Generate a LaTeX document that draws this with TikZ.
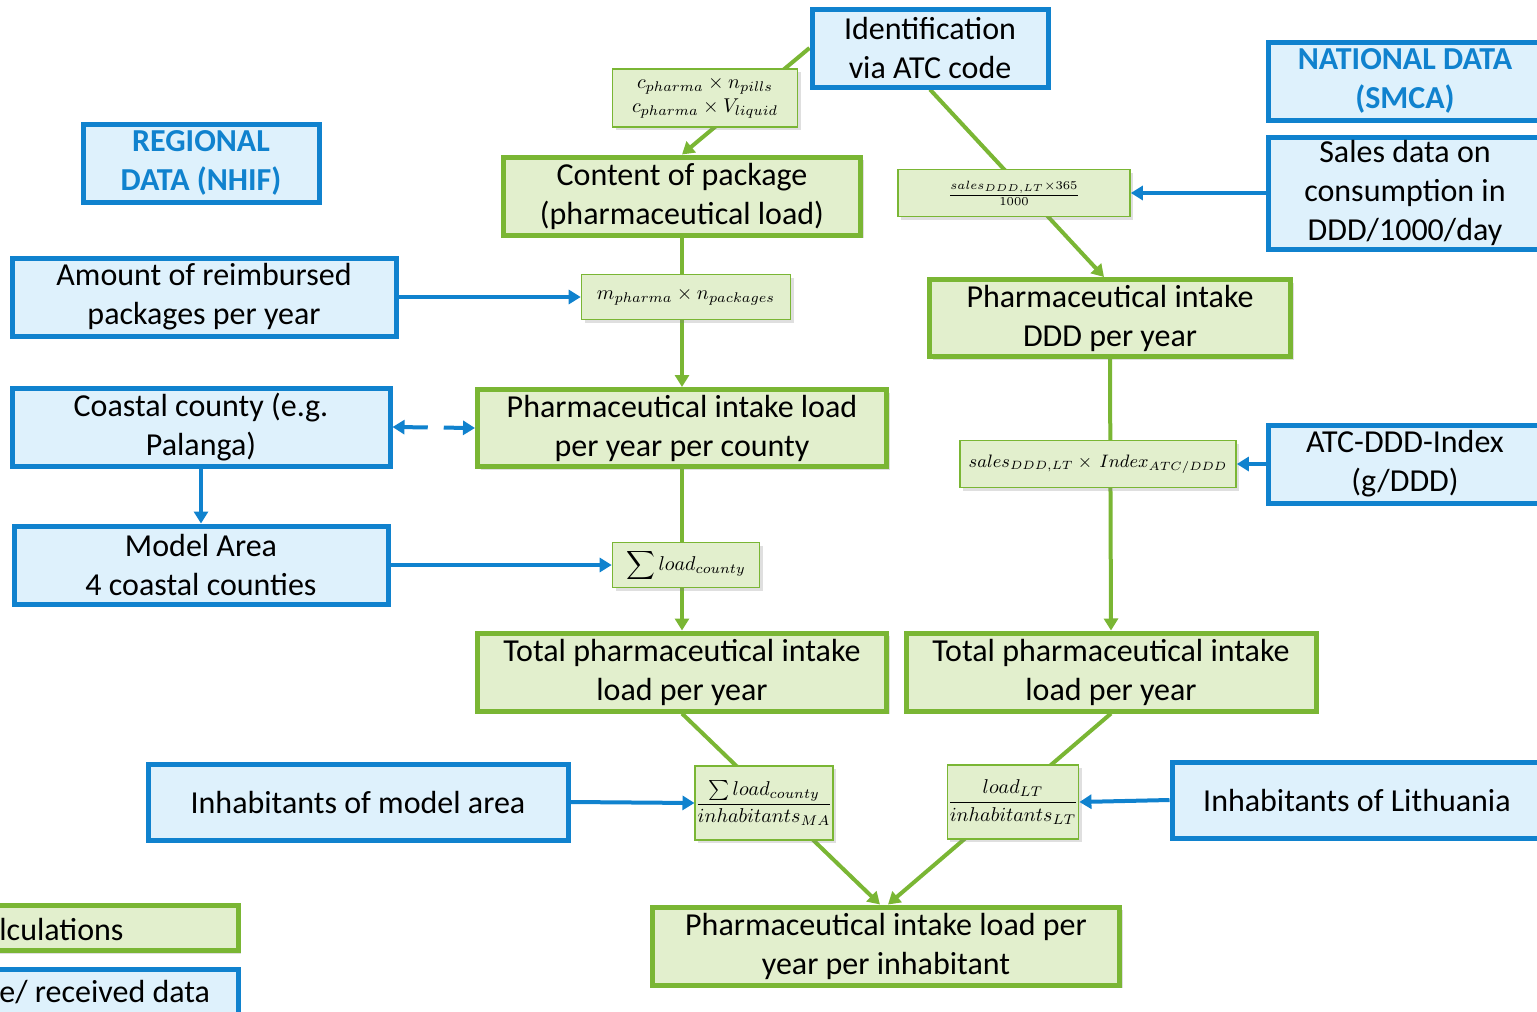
\documentclass[tikz,border=0pt]{standalone}
\usepackage{fontspec}
\setmainfont{Carlito}
\usetikzlibrary{arrows.meta,shadows}
\definecolor{datblue}{RGB}{16,130,206}
\definecolor{datfill}{RGB}{222,241,252}
\definecolor{calcgreen}{RGB}{122,182,52}
\definecolor{calcfill}{RGB}{226,239,205}
\pgfdeclarelayer{background}
\pgfsetlayers{background,main}

\begin{document}
\begin{tikzpicture}[x=0.5pt, y=-0.5pt,
    boxfont/.style={font=\fontsize{16}{19.5}\selectfont},
    datbox/.style={boxfont, draw=datblue, fill=datfill, line width=2.5pt, align=center, inner sep=0pt,
        drop shadow={opacity=0.25, shadow xshift=1.5pt, shadow yshift=-1.5pt}},
    headbox/.style={datbox, text=datblue, font=\fontsize{16}{19.5}\selectfont\bfseries},
    calcbox/.style={boxfont, draw=calcgreen, fill=calcfill, line width=2.5pt, align=center, inner sep=0pt,
        drop shadow={opacity=0.25, shadow xshift=1.5pt, shadow yshift=-1.5pt}},
    formbox/.style={draw=calcgreen, fill=calcfill, line width=0.8pt, align=center, inner sep=0pt,
        font=\fontsize{10}{12}\selectfont,
        drop shadow={opacity=0.25, shadow xshift=1.5pt, shadow yshift=-1.5pt}},
    greenarrow/.style={draw=calcgreen, line width=2pt, -{Triangle[length=6pt, width=7pt]}},
    bluearrow/.style={draw=datblue, line width=2pt, -{Triangle[length=6pt, width=7pt]}}]
    \useasboundingbox (0,0) rectangle (1537,1012);
    \clip (0,0) rectangle (1537,1012);

    % data boxes
    \node[datbox, minimum width=118pt, minimum height=39pt] (ident) at (930,48) {Identification\\via ATC code};
    \node[headbox, minimum width=137pt, minimum height=39pt] (national) at (1405,81) {NATIONAL DATA\\(SMCA)};
    \node[datbox, minimum width=137pt, minimum height=56pt] (sales) at (1405,193) {Sales data on\\consumption in\\DDD/1000/day};
    \node[datbox, minimum width=137pt, minimum height=39pt] (atcindex) at (1405,464) {ATC-DDD-Index\\(g/DDD)};
    \node[datbox, minimum width=185pt, minimum height=38pt] (inhablt) at (1357,800) {Inhabitants of Lithuania};
    \node[headbox, minimum width=118pt, minimum height=39pt] (regional) at (201,163) {REGIONAL\\DATA (NHIF)};
    \node[datbox, minimum width=192pt, minimum height=39pt] (amount) at (204,297) {Amount of reimbursed\\packages per year};
    \node[datbox, minimum width=189pt, minimum height=39pt] (coastal) at (201,427) {Coastal county (e.g.\\Palanga)};
    \node[datbox, minimum width=187pt, minimum height=39pt] (model) at (201,565) {Model Area\\4 coastal counties};
    \node[datbox, minimum width=210pt, minimum height=38pt] (inhabma) at (358,802) {Inhabitants of model area};

    % calculation boxes
    \node[calcbox, minimum width=178.5pt, minimum height=39pt] (content) at (682,196) {Content of package\\(pharmaceutical load)};
    \node[calcbox, minimum width=204.5pt, minimum height=38.5pt] (intakecounty) at (682,428) {Pharmaceutical intake load\\per year per county};
    \node[calcbox, minimum width=204.5pt, minimum height=39pt] (totalma) at (682,672) {Total pharmaceutical intake\\load per year};
    \node[calcbox, minimum width=205pt, minimum height=39pt] (totallt) at (1111,672) {Total pharmaceutical intake\\load per year};
    \node[calcbox, minimum width=180.5pt, minimum height=38.5pt] (intakeddd) at (1110,318) {Pharmaceutical intake\\DDD per year};
    \node[calcbox, minimum width=233.5pt, minimum height=39pt] (final) at (886,946) {Pharmaceutical intake load per\\year per inhabitant};

    % formulas
    \node[formbox, minimum width=92.5pt, minimum height=29pt] (fpack) at (705,98) {$c_{pharma}\times n_{pills}$\\$c_{pharma}\times V_{liquid}$};
    \node[formbox, minimum width=116pt, minimum height=23.5pt, font=\fontsize{8}{10}\selectfont] (fddd) at (1014,193) {$\frac{sales_{DDD,LT}\times 365}{1000}$};
    \node[formbox, minimum width=104.5pt, minimum height=22.5pt] (fmass) at (686,297) {$m_{pharma}\times n_{packages}$};
    \node[formbox, minimum width=138pt, minimum height=23.5pt, font=\fontsize{9}{11}\selectfont] (findex) at (1098,464) {$sales_{DDD,LT}\times\,Index_{ATC/DDD}$};
    \node[formbox, minimum width=73.5pt, minimum height=22.5pt] (fsum) at (686,565) {$\displaystyle\sum load_{county}$};
    \node[formbox, minimum width=68pt, minimum height=37pt] (fperma) at (764,803) {$\displaystyle\frac{\textstyle\sum load_{county}}{inhabitants_{MA}}$};
    \node[formbox, minimum width=64.5pt, minimum height=37pt] (fperlt) at (1013,802) {$\displaystyle\frac{load_{LT}}{inhabitants_{LT}}$};

    % legend
    \node[calcbox, minimum width=219pt, minimum height=22.5pt] (legcalc) at (19,928) {};
    \node[boxfont, anchor=west, inner sep=0pt] (legcalctext) at (-1,929) {lculations};
    \node[datbox, minimum width=219pt, minimum height=30pt] (legdata) at (19,999) {};
    \node[boxfont, anchor=west, inner sep=0pt] (legdatatext) at (-1,992) {e/ received data};

    % green flow
    \begin{pgfonlayer}{background}
        \draw[greenarrow] (ident.west) -- (content.north);
        \draw[greenarrow] (content.south) -- (intakecounty.north);
        \draw[greenarrow] (intakecounty.south) -- (totalma.north);
        \draw[greenarrow] (ident.south) -- ([xshift=-3pt]intakeddd.north);
        \draw[greenarrow] (intakeddd.south) -- (totallt.north);
        \draw[greenarrow] (totalma.south) -- ([xshift=-3pt]final.north);
        \draw[greenarrow] (totallt.south) -- ([xshift=1pt]final.north);
    \end{pgfonlayer}

    % blue inputs
    \draw[bluearrow] (amount.east) -- (fmass.west);
    \draw[bluearrow] (sales.west) -- (fddd.east);
    \draw[bluearrow] (atcindex.west) -- (findex.east);
    \draw[bluearrow] (coastal.south) -- (model.north);
    \draw[bluearrow] (model.east) -- (fsum.west);
    \draw[bluearrow] (inhabma.east) -- (fperma.west);
    \draw[bluearrow] (inhablt.west) -- (fperlt.east);
    \draw[bluearrow, {Triangle[length=6pt, width=7pt]}-{Triangle[length=6pt, width=7pt]}, dash pattern=on 12pt off 8pt] (coastal.east) -- (intakecounty.west);
\end{tikzpicture}
\end{document}
